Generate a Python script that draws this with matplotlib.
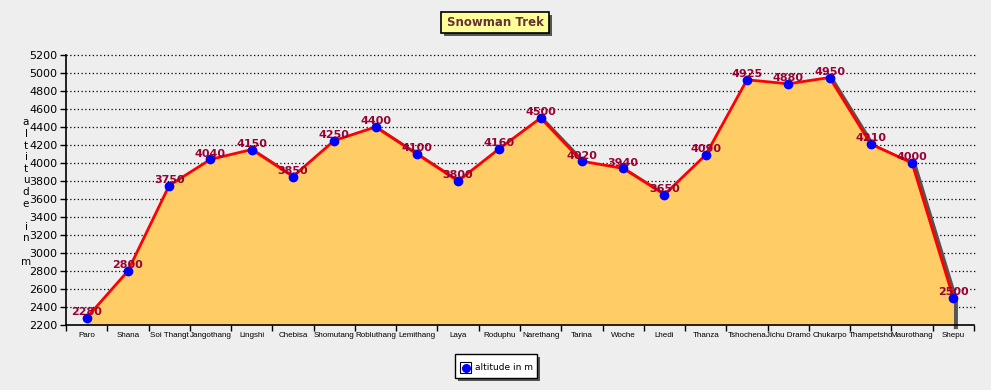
import matplotlib
matplotlib.use("Agg")
import matplotlib.pyplot as plt
import matplotlib.transforms as mtransforms
from matplotlib.patches import Rectangle
from matplotlib.lines import Line2D
import numpy as np

stops = ["Paro", "Shana", "Soi Thangt", "Jangothang", "Lingshi", "Chebisa", "Shomutang",
         "Robluthang", "Lemithang", "Laya", "Roduphu", "Narethang", "Tarina", "Woche",
         "Lhedi", "Thanza", "Tshochena", "Jichu Dramo", "Chukarpo", "Thampetsho",
         "Maurothang", "Shepu"]
altitude = [2280, 2800, 3750, 4040, 4150, 3850, 4250, 4400, 4100, 3800, 4160, 4500,
            4020, 3940, 3650, 4090, 4925, 4880, 4950, 4210, 4000, 2500]
yticks = list(range(2200, 5201, 200))
title = "Snowman Trek"
ylabel_letters = "altitude in m"
series_name = "altitude in m"

bg = "#EEEEEE"
W, H = 991, 390
fig = plt.figure(figsize=(W/100, H/100), dpi=100, facecolor=bg)
ax = fig.add_axes([66/W, 1-325/H, 908/W, 270/H])
ax.set_facecolor(bg)

x = np.arange(len(stops))
ymin, ymax = 2200, 5200
ax.set_xlim(-0.5, len(stops)-0.5)
ax.set_ylim(ymin, ymax)

# grid lines (extend slightly beyond axes)
for yv in yticks[1:]:
    ax.plot([-0.5, len(stops)-0.5+0.05], [yv, yv], linestyle=(0, (1, 2)), color="black",
            lw=0.9, zorder=0.5, clip_on=False)

# shadow
shadow_tr = mtransforms.offset_copy(ax.transData, fig=fig, x=2.5, y=-2, units="dots")
sx = list(x) + [x[-1]]
sy = list(altitude) + [ymin]
ax.plot(sx, sy, color="#555555", lw=3, transform=shadow_tr, zorder=1, clip_on=False)

ax.fill_between(x, altitude, ymin, color="#FFCC66", zorder=2, lw=0)
ax.plot(x, altitude, color="#FF0000", lw=2, zorder=3)
ax.plot(x, altitude, linestyle="none", marker="o", ms=6, color="#0000FF", zorder=4)

for xi, yi in zip(x, altitude):
    ax.annotate(str(yi), (xi, yi), xytext=(0, 0.5), textcoords="offset points",
                ha="center", va="bottom", fontsize=8, fontweight="bold",
                color="#990033", zorder=5)

ax.set_yticks(yticks)
ax.set_yticklabels([str(v) for v in yticks], fontsize=8)
ax.set_xticks(x)
ax.set_xticklabels(stops, fontsize=5.8, family=["Liberation Sans Narrow", "Liberation Sans", "DejaVu Sans"])
ax.set_xticks(np.arange(-0.5, len(stops)), minor=True)
ax.tick_params(axis="x", which="major", length=0, pad=5)
ax.tick_params(axis="x", which="minor", length=4, width=1, color="black")
ax.tick_params(axis="y", length=4, width=1, pad=2)
for s in ["top", "right"]:
    ax.spines[s].set_visible(False)
ax.spines["left"].set_linewidth(1.2)
ax.spines["bottom"].set_linewidth(1.2)

# vertical stacked y label
fig.text(26/W, 1-192/H, "\n".join(ylabel_letters), ha="center", va="center",
         fontsize=7.5, linespacing=1.2)

# title box
tx0, ty0, tx1, ty1 = 441, 12, 549, 33
fig.patches.append(Rectangle(((tx0+3)/W, 1-(ty1+3)/H), (tx1-tx0)/W, (ty1-ty0)/H,
                             transform=fig.transFigure, fc="#555555", ec="none", zorder=1))
fig.patches.append(Rectangle((tx0/W, 1-ty1/H), (tx1-tx0)/W, (ty1-ty0)/H,
                             transform=fig.transFigure, fc="#FFFF99", ec="black", lw=1.2,
                             zorder=2))
fig.text((tx0+tx1)/2/W, 1-(ty0+ty1)/2/H, title, ha="center", va="center", fontsize=8.5,
         fontweight="bold", color="#663333", zorder=3)

# legend box
lx0, ly0, lx1, ly1 = 455, 354, 537, 378
fig.patches.append(Rectangle(((lx0+3)/W, 1-(ly1+3)/H), (lx1-lx0)/W, (ly1-ly0)/H,
                             transform=fig.transFigure, fc="#555555", ec="none", zorder=1))
fig.patches.append(Rectangle((lx0/W, 1-ly1/H), (lx1-lx0)/W, (ly1-ly0)/H,
                             transform=fig.transFigure, fc="white", ec="black", lw=1, zorder=2))
fig.patches.append(Rectangle((460/W, 1-373/H), 11/W, 11/H, transform=fig.transFigure,
                             fc="white", ec="black", lw=0.8, zorder=3))
fig.lines.append(Line2D([465.5/W], [1-367.5/H], transform=fig.transFigure, marker="o",
                        ms=5.5, color="#0000FF", zorder=4))
fig.text(475/W, 1-367/H, series_name, ha="left", va="center", fontsize=6.5, zorder=5)

fig.savefig("out.png", dpi=100, facecolor=bg)
